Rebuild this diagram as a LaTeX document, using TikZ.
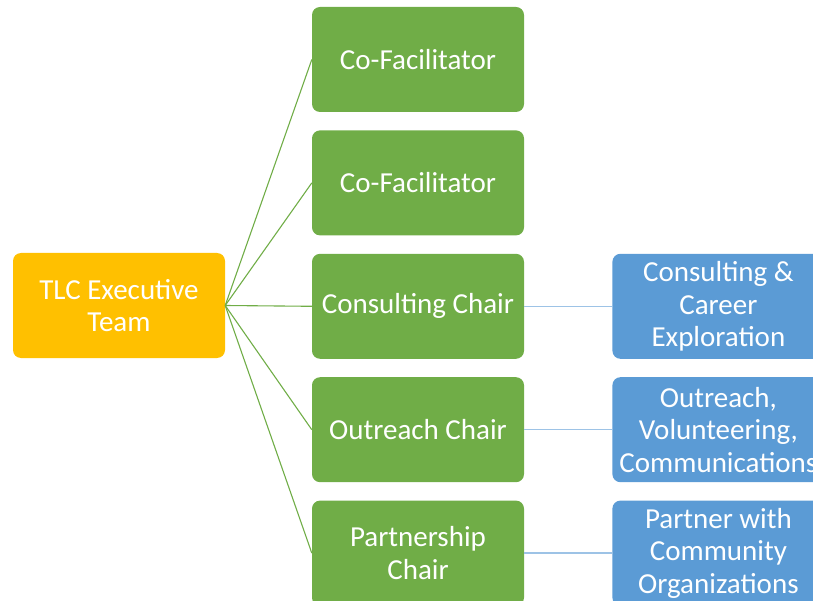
\documentclass[tikz,border=0pt]{standalone}
\usepackage{fontspec}
\setmainfont{Carlito}
\usetikzlibrary{positioning}

\definecolor{execgold}{HTML}{FFC000}
\definecolor{chairgreen}{HTML}{70AD47}
\definecolor{taskblue}{HTML}{5B9BD5}
\definecolor{linkblue}{HTML}{9DC3E6}

\begin{document}
\begin{tikzpicture}[x=1pt,y=-1pt,node distance=18pt and 88pt]
  \tikzstyle{box}=[rectangle,rounded corners=8pt,minimum width=212pt,
    minimum height=105pt,inner sep=0pt,text=white,align=center,
    font=\fontsize{29}{32.5}\selectfont]
  \tikzstyle{chairlink}=[draw=chairgreen,line width=1.1pt]
  \tikzstyle{tasklink}=[draw=linkblue,line width=1.5pt]

  \useasboundingbox (0,0) rectangle (813,601);
  \clip (0,0) rectangle (813,601);

  % team and chairs
  \node[box,fill=execgold] (exec) at (119,305.5) {TLC Executive\\Team};
  \node[box,fill=chairgreen] (c1) at (418,59.5) {Co-Facilitator};
  \node[box,fill=chairgreen,below=of c1] (c2) {Co-Facilitator};
  \node[box,fill=chairgreen,below=of c2] (c3) {Consulting Chair};
  \node[box,fill=chairgreen,below=of c3] (c4) {Outreach Chair};
  \node[box,fill=chairgreen,below=of c4] (c5) {Partnership\\Chair};

  % duties
  \node[box,fill=taskblue,right=of c3] (t3) {Consulting \&\\Career\\Exploration};
  \node[box,fill=taskblue,right=of c4] (t4) {Outreach,\\Volunteering,\\Communications};
  \node[box,fill=taskblue,right=of c5] (t5) {Partner with\\Community\\Organizations};

  \foreach \i in {1,...,5}
    \path[chairlink] (exec.east) -- (c\i.west);
  \foreach \i in {3,4,5}
    \path[tasklink] (c\i.east) -- (t\i.west);
\end{tikzpicture}
\end{document}
